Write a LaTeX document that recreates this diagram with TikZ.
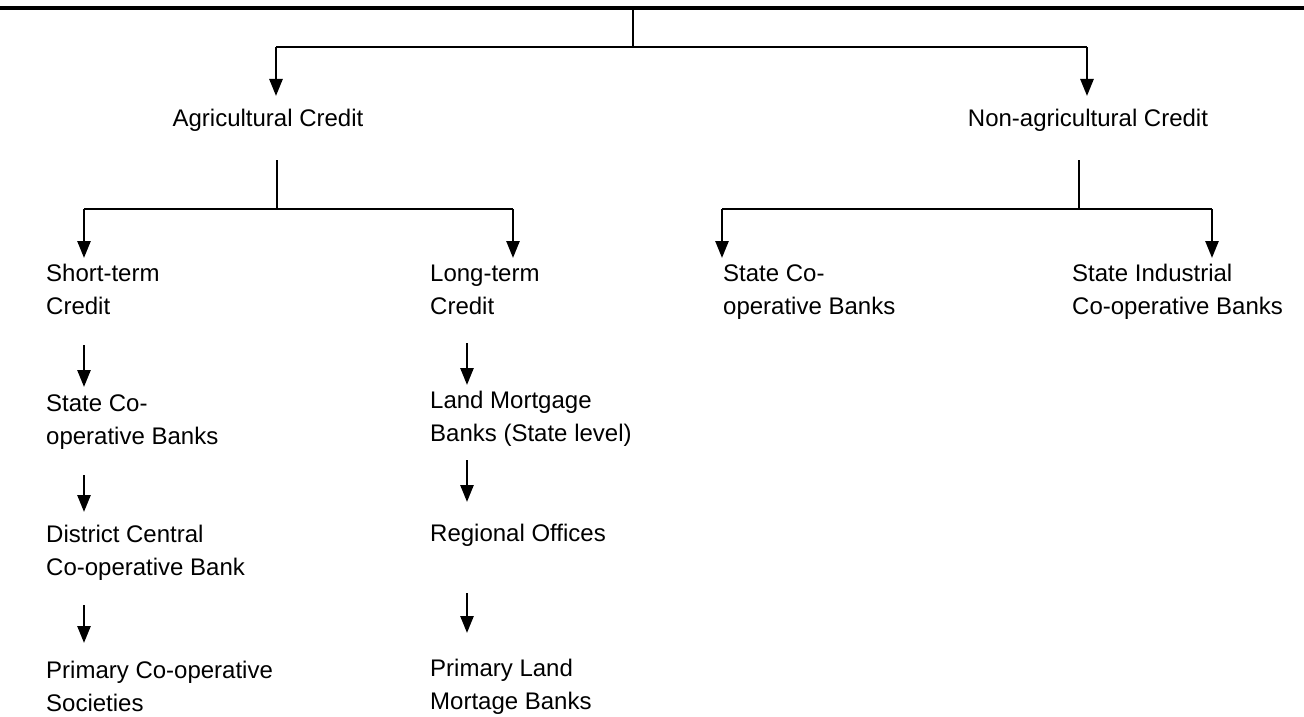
\documentclass[tikz,border=0pt]{standalone}
\usepackage{fontspec}
\setmainfont{Liberation Sans}
\usetikzlibrary{arrows.meta}
\begin{document}
\begin{tikzpicture}[x=1pt,y=-1pt,
  lbl/.style={inner sep=0pt,anchor=base west,align=left,font=\fontsize{24}{33}\selectfont},
  clbl/.style={inner sep=0pt,anchor=base,font=\fontsize{24}{33}\selectfont},
  conn/.style={line width=2.6pt},
  arr/.style={line width=2.6pt,-{Triangle[length=17pt,width=13pt]}}]
\useasboundingbox (0,0) rectangle (1304,717);
% top rule
\coordinate (tl) at (0,8);
\coordinate (tr) at (1304,8);
\draw[line width=3.4pt] (tl) -- (tr);
\coordinate (root) at (633,8);
\coordinate (rj) at (633,47);
\coordinate (rjl) at (276,47);
\coordinate (rjr) at (1087,47);
\coordinate (agtip) at (276,96);
\coordinate (natip) at (1087,96);
\node[clbl] (ag) at (268,126) {Agricultural Credit};
\node[clbl] (na) at (1088,126) {Non-agricultural Credit};
\draw[conn] (root) -- (rj);
\draw[conn] (rjl) -- (rjr);
\draw[arr] (rjl) -- (agtip);
\draw[arr] (rjr) -- (natip);
% agricultural
\coordinate (ag1) at (277,160);
\coordinate (ag2) at (277,209);
\coordinate (agl) at (84,209);
\coordinate (agr) at (513,209);
\coordinate (agltip) at (84,258);
\coordinate (agrtip) at (513,258);
\draw[conn] (ag1) -- (ag2);
\draw[conn] (agl) -- (agr);
\draw[arr] (agl) -- (agltip);
\draw[arr] (agr) -- (agrtip);
% non agricultural
\coordinate (na1) at (1079,160);
\coordinate (na2) at (1079,209);
\coordinate (nal) at (722,209);
\coordinate (nar) at (1212,209);
\coordinate (naltip) at (722,258);
\coordinate (nartip) at (1212,258);
\draw[conn] (na1) -- (na2);
\draw[conn] (nal) -- (nar);
\draw[arr] (nal) -- (naltip);
\draw[arr] (nar) -- (nartip);
% level 2 texts (base = last line)
\node[lbl] (st) at (46,314) {Short-term\\Credit};
\node[lbl] (lt) at (430,314) {Long-term\\Credit};
\node[lbl] (sc) at (723,314) {State Co-\\operative Banks};
\node[lbl] (si) at (1072,314) {State Industrial\\Co-operative Banks};
% left column
\node[lbl] (scb) at (46,444) {State Co-\\operative Banks};
\node[lbl] (dcc) at (46,575) {District Central\\Co-operative Bank};
\node[lbl] (pcs) at (46,711) {Primary Co-operative\\Societies};
\coordinate (a1s) at (84,345); \coordinate (a1e) at (84,387);
\coordinate (a2s) at (84,475); \coordinate (a2e) at (84,512);
\coordinate (a3s) at (84,605); \coordinate (a3e) at (84,643);
\draw[arr] (a1s) -- (a1e);
\draw[arr] (a2s) -- (a2e);
\draw[arr] (a3s) -- (a3e);
% right column
\node[lbl] (lmb) at (430,441) {Land Mortgage\\Banks (State level)};
\node[lbl] (ro) at (430,541) {Regional Offices};
\node[lbl] (plm) at (430,709) {Primary Land\\Mortage Banks};
\coordinate (b1s) at (467,343); \coordinate (b1e) at (467,385);
\coordinate (b2s) at (467,460); \coordinate (b2e) at (467,502);
\coordinate (b3s) at (467,593); \coordinate (b3e) at (467,633);
\draw[arr] (b1s) -- (b1e);
\draw[arr] (b2s) -- (b2e);
\draw[arr] (b3s) -- (b3e);
\end{tikzpicture}
\end{document}
